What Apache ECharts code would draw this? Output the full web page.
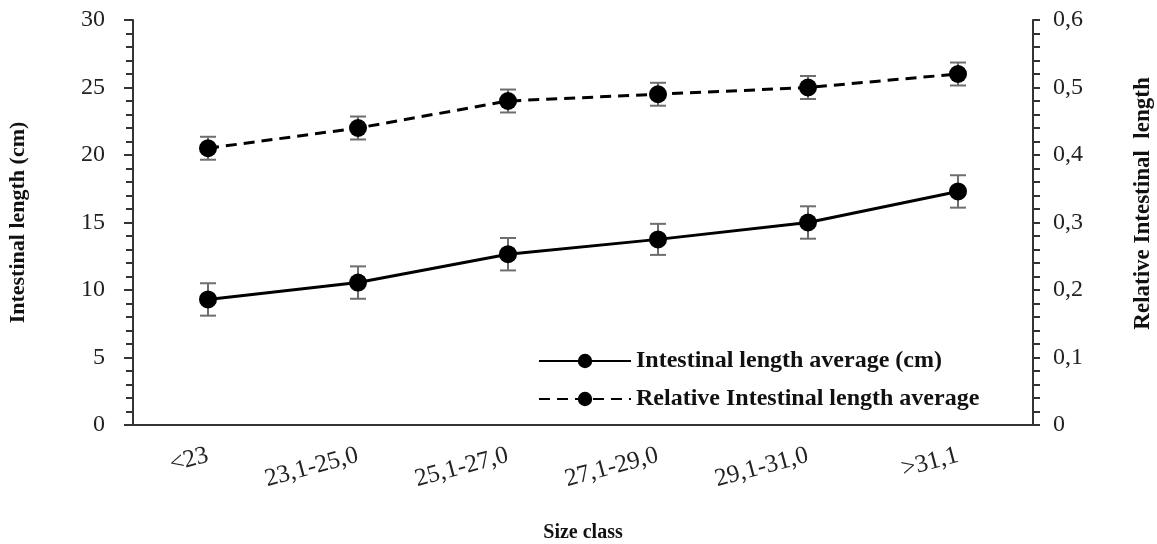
<!DOCTYPE html>
<html>
<head>
<meta charset="utf-8">
<script src="https://cdn.jsdelivr.net/npm/echarts@6/dist/echarts.min.js"></script>
<style>
html,body{margin:0;padding:0;background:#fff;}
#main{width:1157px;height:544px;}
</style>
</head>
<body>
<div id="main"></div>
<script>
var categories = ['<23', '23,1-25,0', '25,1-27,0', '27,1-29,0', '29,1-31,0', '>31,1'];
var lengthAvg = [9.3, 10.55, 12.65, 13.75, 15.0, 17.3];
var lengthErr = [1.2, 1.2, 1.2, 1.15, 1.2, 1.2];
var relAvg = [0.41, 0.44, 0.48, 0.49, 0.50, 0.52];
var relErr = [0.017, 0.017, 0.017, 0.017, 0.017, 0.017];

var myChart = echarts.init(document.getElementById('main'));
var serif = '"Liberation Serif", "Times New Roman", serif';

var errData = function(avg, err){
	var out = [];
	for(var i=0; i<avg.length; i++){
		out.push([i, avg[i] - err[i], avg[i] + err[i]]);
	}
	return out;
};
var renderErr = function(params, api){
	var lo = api.coord([api.value(0), api.value(1)]);
	var hi = api.coord([api.value(0), api.value(2)]);
	var cap = 8;
	var style = {stroke: '#6e6e6e', lineWidth: 2};
	return {
		type: 'group',
		children: [
			{type: 'line', shape: {x1: lo[0], y1: lo[1], x2: hi[0], y2: hi[1]}, style: style},
			{type: 'line', shape: {x1: lo[0]-cap, y1: lo[1], x2: lo[0]+cap, y2: lo[1]}, style: style},
			{type: 'line', shape: {x1: hi[0]-cap, y1: hi[1], x2: hi[0]+cap, y2: hi[1]}, style: style}
		]
	};
};

var axisLine = {lineStyle: {color: '#333', width: 2}};
var option = {
	animation: false,
	backgroundColor: '#fff',
	grid: {left: 133, right: 124, top: 20, bottom: 119, containLabel: false, outerBoundsMode: 'none'},
	legend: {
		orient: 'vertical',
		left: 533,
		top: 344,
		itemWidth: 92,
		itemHeight: 18,
		itemGap: 14,
		data: ['Intestinal length average (cm)', 'Relative Intestinal length average'],
		textStyle: {fontFamily: serif, fontWeight: 'bold', fontSize: 24, color: '#111'}
	},
	xAxis: {
		type: 'category',
		data: categories,
		axisLine: axisLine,
		axisTick: {length: 7, lineStyle: {color: '#333', width: 2}},
		axisLabel: {rotate: 15, fontFamily: serif, fontSize: 25, color: '#222', margin: 30},
		name: 'Size class',
		nameLocation: 'middle',
		nameGap: 98,
		nameTextStyle: {fontFamily: serif, fontWeight: 'bold', fontSize: 20, color: '#111'}
	},
	yAxis: [
		{
			type: 'value',
			min: 0, max: 30, interval: 5,
			splitLine: {show: false},
			axisLine: {show: true, lineStyle: {color: '#333', width: 2}},
			axisTick: {show: true, length: 9, lineStyle: {color: '#333', width: 2}},
			minorTick: {show: true, splitNumber: 5, length: 7, lineStyle: {color: '#333', width: 2}},
			axisLabel: {fontFamily: serif, fontSize: 24, color: '#222', margin: 28},
			name: 'Intestinal length (cm)',
			nameLocation: 'middle',
			nameGap: 104,
			nameTextStyle: {fontFamily: serif, fontWeight: 'bold', fontSize: 22, color: '#111'}
		},
		{
			type: 'value',
			min: 0, max: 0.6, interval: 0.1,
			splitLine: {show: false},
			axisLine: {show: true, lineStyle: {color: '#333', width: 2}},
			axisTick: {show: true, length: 7, lineStyle: {color: '#333', width: 2}},
			minorTick: {show: true, splitNumber: 5, length: 7, lineStyle: {color: '#333', width: 2}},
			axisLabel: {
				fontFamily: serif, fontSize: 24, color: '#222', margin: 20,
				formatter: function(v){ return v === 0 ? '0' : v.toFixed(1).replace('.', ','); }
			},
			name: 'Relative Intestinal  length',
			nameLocation: 'middle',
			nameGap: 99,
			nameRotate: 90,
			nameTextStyle: {fontFamily: serif, fontWeight: 'bold', fontSize: 23, color: '#111', padding: [0, 0, 0, 38]}
		}
	],
	series: [
		{
			type: 'custom',
			renderItem: renderErr,
			data: errData(lengthAvg, lengthErr),
			yAxisIndex: 0,
			z: 1,
			silent: true
		},
		{
			type: 'custom',
			renderItem: renderErr,
			data: errData(relAvg, relErr),
			yAxisIndex: 1,
			z: 1,
			silent: true
		},
		{
			name: 'Intestinal length average (cm)',
			type: 'line',
			yAxisIndex: 0,
			data: lengthAvg,
			symbol: 'circle',
			symbolSize: 18,
			itemStyle: {color: '#000'},
			lineStyle: {color: '#000', width: 3},
			z: 3
		},
		{
			name: 'Relative Intestinal length average',
			type: 'line',
			yAxisIndex: 1,
			data: relAvg,
			symbol: 'circle',
			symbolSize: 18,
			itemStyle: {color: '#000'},
			lineStyle: {color: '#000', width: 3, type: [11, 7]},
			z: 3
		}
	]
};
myChart.setOption(option);
</script>
</body>
</html>
